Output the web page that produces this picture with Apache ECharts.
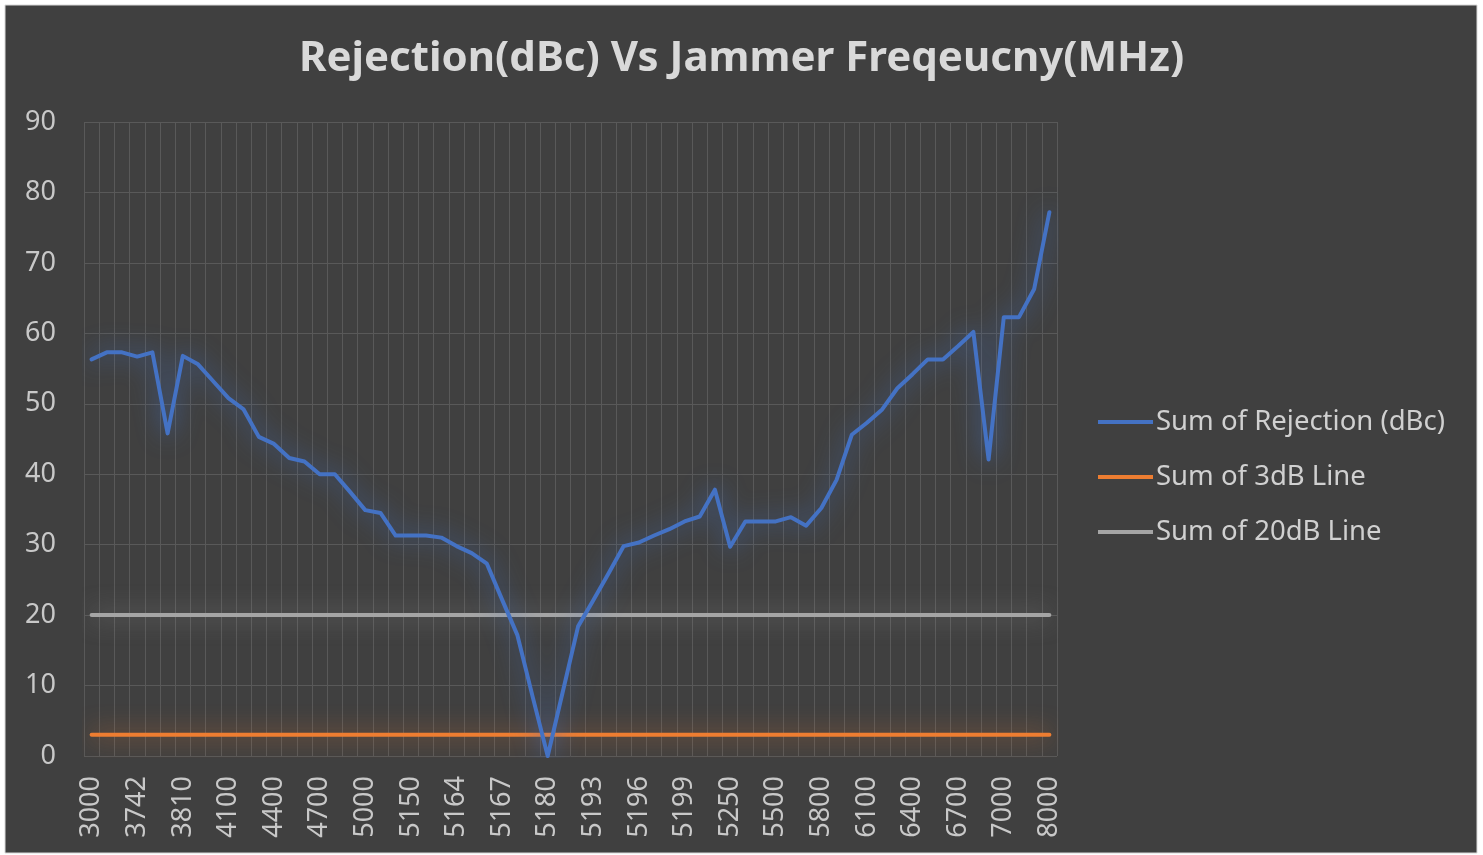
<!DOCTYPE html>
<html>
<head>
<meta charset="utf-8">
<script src="https://cdn.jsdelivr.net/npm/echarts@6/dist/echarts.min.js"></script>
<style>
html,body{margin:0;padding:0;background:#ffffff;}
#chart{width:1483px;height:855px;}
</style>
</head>
<body>
<div id="chart"></div>
<script>
const categories = ['3000','3500','3700','3742','3760','3780','3810','3900','4000','4100','4200','4300','4400','4500','4600','4700','4800','4900','5000','5050','5100','5150','5155','5160','5164','5165','5166','5167','5170','5175','5180','5185','5190','5193','5194','5195','5196','5197','5198','5199','5200','5225','5250','5300','5400','5500','5600','5700','5800','5900','6000','6100','6200','6300','6400','6500','6600','6700','6800','6900','7000','7500','7800','8000'];
const rejection = [56.3,57.3,57.3,56.7,57.3,45.8,56.8,55.6,53.2,50.8,49.2,45.3,44.3,42.3,41.8,40.0,40.0,37.5,34.9,34.5,31.3,31.3,31.3,31.0,29.8,28.8,27.3,22.2,17.2,8.5,0,9.2,18.4,22.1,25.9,29.8,30.3,31.3,32.2,33.3,34.0,37.8,29.7,33.3,33.3,33.3,33.9,32.7,35.2,39.2,45.6,47.3,49.2,52.2,54.2,56.3,56.3,58.2,60.2,42.1,62.3,62.3,66.3,77.2];
const line3dB = categories.map(() => 3);
const line20dB = categories.map(() => 20);
const seriesNames = ['Sum of Rejection (dBc)','Sum of 3dB Line','Sum of 20dB Line'];

const chart = echarts.init(document.getElementById('chart'), null, {renderer:'canvas'});
const font = '"Noto Sans", "Open Sans", sans-serif';
function mk(name, data, color, glow, z){
  return {
    name, type:'line', data, symbol:'none', z,
    lineStyle:{color, width:4, shadowBlur:24, shadowColor:glow, cap:'round', join:'round'},
    itemStyle:{color},
    emphasis:{disabled:true}
  };
}
chart.setOption({
  backgroundColor:'#ffffff',
  animation:false,
  graphic:[{type:'rect', z:-10, shape:{x:5,y:5,width:1472,height:848}, style:{fill:'#404040', stroke:'#d9d9d9', lineWidth:1}}],
  title:{text:'Rejection(dBc) Vs Jammer Freqeucny(MHz)', left:'center', top:33,
    textStyle:{color:'#d9d9d9', fontSize:42, fontWeight:'bold', fontFamily:font}},
  legend:{orient:'vertical', left:1093, top:403, itemWidth:55, itemHeight:4, itemGap:27, icon:'rect',
    data:seriesNames,
    textStyle:{color:'#d0d0d0', fontSize:27.5, fontFamily:font, padding:[0,0,0,-2]}},
  grid:{left:84, right:426, top:122, bottom:99, containLabel:false},
  xAxis:{type:'category', data:categories, boundaryGap:true,
    axisLine:{show:false}, axisTick:{show:false},
    axisLabel:{interval:2, rotate:90, color:'#c8c8c8', fontSize:27, fontFamily:font, margin:20},
    splitLine:{show:true, interval:0, lineStyle:{color:'#595959', width:1}}},
  yAxis:{type:'value', min:0, max:90, interval:10,
    axisLine:{show:false}, axisTick:{show:false},
    axisLabel:{color:'#c8c8c8', fontSize:27, fontFamily:font, margin:28},
    splitLine:{show:true, lineStyle:{color:'#595959', width:1}}},
  series:[
    mk(seriesNames[0], rejection, '#4472c4', 'rgba(68,114,196,0.9)', 5),
    mk(seriesNames[1], line3dB, '#ed7d31', 'rgba(237,125,49,0.8)', 4),
    mk(seriesNames[2], line20dB, '#a5a5a5', 'rgba(165,165,165,0.7)', 3)
  ]
});
</script>
</body>
</html>
